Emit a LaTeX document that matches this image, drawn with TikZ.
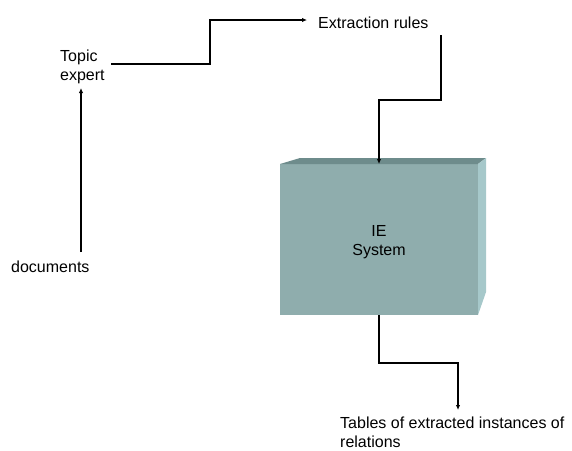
\documentclass[tikz,border=0pt]{standalone}
\usepackage{fontspec}
\setmainfont{Liberation Sans}
\usetikzlibrary{arrows.meta}
\definecolor{frontc}{RGB}{143,173,173}
\definecolor{topc}{RGB}{110,140,140}
\definecolor{sidec}{RGB}{166,200,202}
\tikzset{
  lbl/.style={inner sep=0pt, font=\fontsize{16}{19}\selectfont},
  arr/.style={line width=1.5pt, -{Latex[length=5pt,width=4.5pt]}},
}
\begin{document}
\begin{tikzpicture}[x=1pt,y=-1pt]
\useasboundingbox (0,0) rectangle (572,450);
% box faces
\fill[frontc] (280,164) rectangle (478,315);
\fill[topc] (280,164) -- (300,158) -- (486,158) -- (478,164) -- cycle;
\fill[sidec] (478,164) -- (486,158) -- (486,292) -- (478,315) -- cycle;
\node[lbl, align=center, anchor=base] (ie) at (379,255) {IE\\System};
% labels
\node[lbl, anchor=base west] (docs) at (11,272) {documents};
\node[lbl, align=left, anchor=base west] (topic) at (60,80) {Topic\\expert};
\node[lbl, anchor=base west] (rules) at (318,28) {Extraction rules};
\node[lbl, align=left, anchor=base west] (tables) at (340,447) {Tables of extracted instances of\\relations};
% connector points
\coordinate (d0) at (81,252);
\coordinate (t0) at (81,88);
\coordinate (a0) at (111,64);
\coordinate (a1) at (210,64);
\coordinate (a2) at (210,20);
\coordinate (r0) at (307,20);
\coordinate (b0) at (441,35);
\coordinate (b1) at (441,100);
\coordinate (b2) at (379,100);
\coordinate (boxtop) at (379,164);
\coordinate (boxbot) at (379,315);
\coordinate (c1) at (379,363);
\coordinate (c2) at (458,363);
\coordinate (c3) at (458,410);
\draw[arr] (d0) -- (t0);
\draw[arr] (a0) -- (a1) -- (a2) -- (r0);
\draw[arr] (b0) -- (b1) -- (b2) -- (boxtop);
\draw[arr] (boxbot) -- (c1) -- (c2) -- (c3);
\end{tikzpicture}
\end{document}
